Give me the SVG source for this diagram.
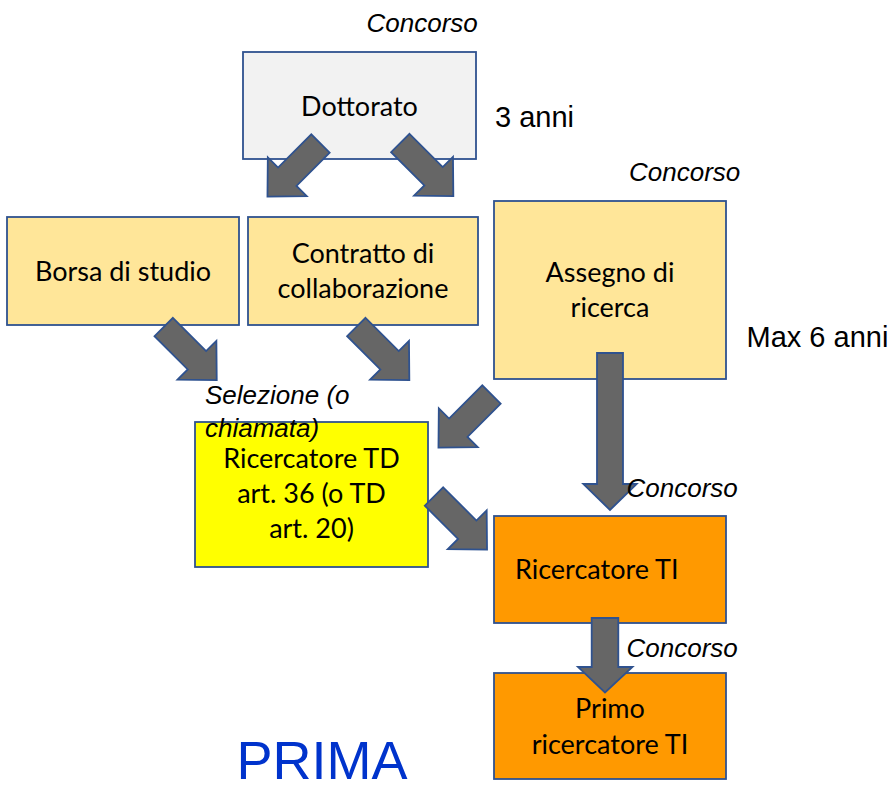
<svg xmlns="http://www.w3.org/2000/svg" xmlns:xlink="http://www.w3.org/1999/xlink" width="894" height="786" viewBox="0 0 894 786">
<style>
  .box { stroke: #2f528f; stroke-width: 1.8; }
  .lbl { font-family: Lato, "Open Sans", sans-serif; font-size: 27px; fill: #000; text-anchor: middle; }
  .note { font-family: "Liberation Sans", Arial, sans-serif; font-size: 26px; font-style: italic; fill: #000; }
  .plain { font-family: "Liberation Sans", Arial, sans-serif; font-size: 29px; fill: #000; }
  .arrow { fill: #666666; stroke: #2f528f; stroke-width: 1.8; stroke-linejoin: miter; }
</style>
<defs>
  <path id="diag" d="M0,-13 L47,-13 L47,-27.5 L75,0 L47,27.5 L47,13 L0,13 Z"/>
</defs>
<rect width="894" height="786" fill="#ffffff"/>

<g id="dottorato">
  <rect class="box" x="243" y="52" width="233" height="107" fill="#f2f2f2"/>
  <text class="lbl" x="359.5" y="116">Dottorato</text>
</g>
<g id="borsa">
  <rect class="box" x="7" y="217" width="232" height="108" fill="#ffe699"/>
  <text class="lbl" x="123" y="281">Borsa di studio</text>
</g>
<g id="contratto">
  <rect class="box" x="248" y="217" width="230" height="108" fill="#ffe699"/>
  <text class="lbl" x="363" y="263">Contratto di</text>
  <text class="lbl" x="363" y="298">collaborazione</text>
</g>
<g id="assegno">
  <rect class="box" x="494" y="201" width="232" height="178" fill="#ffe699"/>
  <text class="lbl" x="610" y="282">Assegno di</text>
  <text class="lbl" x="610" y="317">ricerca</text>
</g>
<g id="ricercatore-td">
  <rect class="box" x="195" y="422" width="233" height="145" fill="#ffff00"/>
  <text class="lbl" x="311.5" y="468">Ricercatore TD</text>
  <text class="lbl" x="311.5" y="503">art. 36 (o TD</text>
  <text class="lbl" x="311.5" y="538">art. 20)</text>
</g>
<g id="ricercatore-ti">
  <rect class="box" x="494" y="516" width="232" height="107" fill="#ff9900"/>
  <text class="lbl" x="515" y="579" style="text-anchor:start">Ricercatore TI</text>
</g>
<g id="primo-ricercatore">
  <rect class="box" x="494" y="673" width="232" height="106" fill="#ff9900"/>
  <text class="lbl" x="610" y="718">Primo</text>
  <text class="lbl" x="610" y="754">ricercatore TI</text>
</g>

<g id="connectors">
  <use xlink:href="#diag" class="arrow" transform="translate(320.5,143.5) rotate(135)"/>
  <use xlink:href="#diag" class="arrow" transform="translate(400.3,143) rotate(45)"/>
  <use xlink:href="#diag" class="arrow" transform="translate(163.7,327) rotate(45)"/>
  <use xlink:href="#diag" class="arrow" transform="translate(356.3,327) rotate(45)"/>
  <use xlink:href="#diag" class="arrow" transform="translate(491.5,394.5) rotate(135)"/>
  <use xlink:href="#diag" class="arrow" transform="translate(434,496.5) rotate(45)"/>
  <polygon class="arrow" points="597,353 623,353 623,484 636.7,484 610,510 583.3,484 597,484"/>
  <polygon class="arrow" points="591.7,618 618.3,618 618.3,667 632.5,667 605,692.5 578,667 591.7,667"/>
</g>

<g id="annotations">
  <text class="note" x="366.5" y="31.5">Concorso</text>
  <text class="plain" x="495" y="127">3 anni</text>
  <text class="note" x="629" y="180.5">Concorso</text>
  <text class="plain" x="746.5" y="347">Max 6 anni</text>
  <text class="note" x="205" y="404">Selezione (o</text>
  <text class="note" x="205" y="436.5">chiamata)</text>
  <text class="note" x="626.5" y="496.5">Concorso</text>
  <text class="note" x="626.5" y="657">Concorso</text>
  <text x="236.5" y="779" style="font-family:'Liberation Sans', Arial, sans-serif; font-size:54px; fill:#0033cc">PRIMA</text>
</g>
</svg>
